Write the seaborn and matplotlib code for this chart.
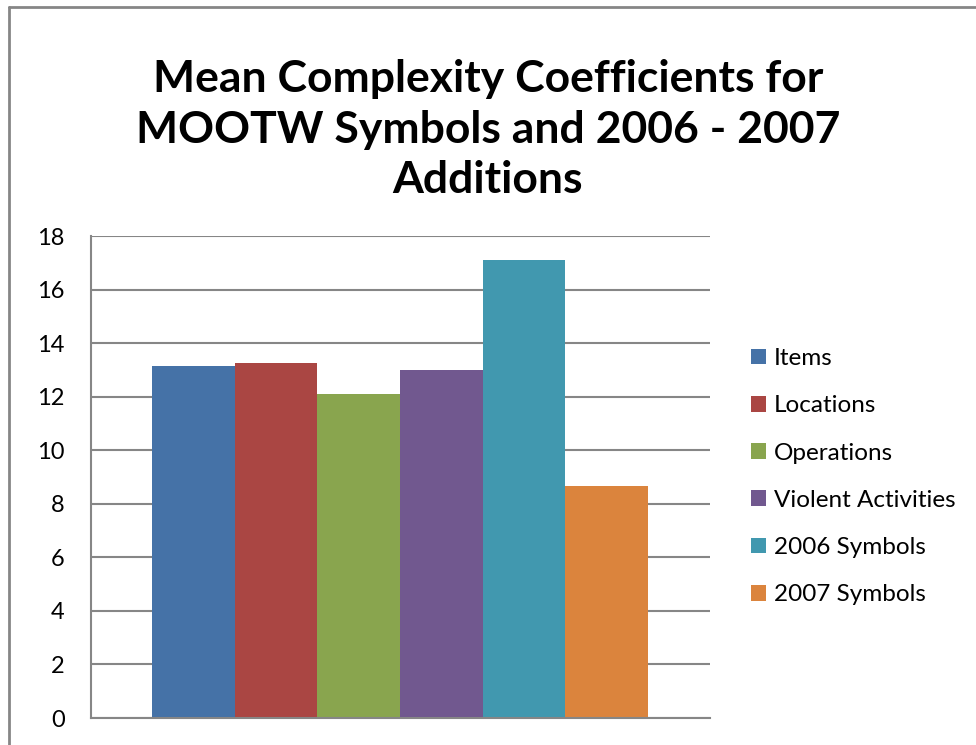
import matplotlib
matplotlib.use('Agg')
import matplotlib.pyplot as plt
import seaborn as sns
import pandas as pd
from matplotlib.lines import Line2D

categories = ['Items', 'Locations', 'Operations', 'Violent Activities', '2006 Symbols', '2007 Symbols']
values = [13.15, 13.25, 12.1, 13.0, 17.1, 8.65]
colors = ['#4572A7', '#AA4643', '#89A54E', '#71588F', '#4198AF', '#DB843D']
y_ticks = [0, 2, 4, 6, 8, 10, 12, 14, 16, 18]

df = pd.DataFrame({'category': categories, 'value': values})

sns.set_style('white')
plt.rcParams['font.family'] = ['Lato', 'DejaVu Sans']
plt.rcParams['text.color'] = 'black'

fig = plt.figure(figsize=(9.76, 7.45), dpi=100)
ax = fig.add_axes([0.0932, 0.0362, 0.6343, 0.647])

sns.barplot(data=df, x='category', y='value', hue='category', palette=colors,
            width=1.0, saturation=1, linewidth=0, legend=True, ax=ax)

ax.set_xlim(-1.24, 6.25)
ax.set_ylim(0, 18)
ax.set_yticks(y_ticks)
ax.set_xticks([])
ax.set_xlabel('')
ax.set_ylabel('')
ax.tick_params(axis='y', length=0, pad=19, labelsize=17, labelcolor='black')
ax.yaxis.grid(True, color='#868686', linewidth=1.5)
ax.set_axisbelow(True)
for side in ['top', 'right']:
    ax.spines[side].set_visible(False)
for side in ['left', 'bottom']:
    ax.spines[side].set_color('#868686')
    ax.spines[side].set_linewidth(1.5)

handles, labels = ax.get_legend_handles_labels()
ax.legend(handles, labels, loc='center left', bbox_to_anchor=(0.759, 0.36),
          bbox_transform=fig.transFigure, frameon=False, fontsize=17.5,
          handlelength=0.62, handleheight=0.62, handletextpad=0.35,
          labelspacing=1.08, borderaxespad=0)

fig.text(0.5, 0.826, 'Mean Complexity Coefficients for\nMOOTW Symbols and 2006 - 2007\nAdditions',
         ha='center', va='center', fontsize=32, fontweight='bold', linespacing=1.32,
         color='black')

# chart border (top and left edges visible)
fig.add_artist(Line2D([9 / 976, 1], [1 - 7 / 745, 1 - 7 / 745], transform=fig.transFigure,
                      color='#868686', linewidth=2))
fig.add_artist(Line2D([9 / 976, 9 / 976], [0, 1 - 7 / 745], transform=fig.transFigure,
                      color='#868686', linewidth=2))

fig.savefig('out.png', dpi=100)
